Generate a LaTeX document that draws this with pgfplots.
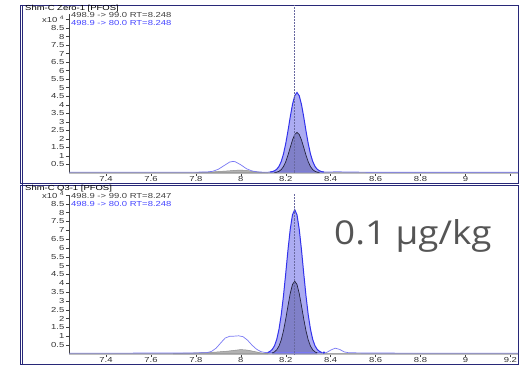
\documentclass[border=0pt]{standalone}
\usepackage{pgfplots}
\pgfplotsset{compat=1.18}
\usepackage{fontspec}
\setmainfont{Liberation Sans}
\newfontfamily\bigfont{Open Sans}

\definecolor{frame}{RGB}{40,40,120}
\definecolor{trace80}{RGB}{50,50,235}
\definecolor{trace80l}{RGB}{120,120,245}
\definecolor{fill80}{RGB}{172,172,242}
\definecolor{fill99}{RGB}{128,128,200}
\definecolor{trace99}{RGB}{35,35,60}
\definecolor{leg80}{RGB}{70,70,255}
\definecolor{bigtext}{RGB}{85,85,85}

\newcommand{\chromfont}{\fontsize{7.3}{7.3}\selectfont}
\newcommand{\sx}[1]{\scalebox{1.3}[1]{#1}}

\pgfplotsset{
  chrom/.style={
    scale only axis, width=449bp, height=159bp,
    anchor=origin, clip=false,
    xmin=7.235, xmax=9.234, ymin=0,
    axis x line=bottom, axis y line=left,
    axis line style={-},
    x axis line style={draw=black!25, line width=1.2pt},
    y axis line style={draw=black!75, line width=0.6pt},
    tick align=outside, major tick length=3bp,
    tick style={black!75, line width=0.5pt},
    xtick={7.4,7.6,7.8,8,8.2,8.4,8.6,8.8,9,9.2},
    ytick={0.5,1,1.5,2,2.5,3,3.5,4,4.5,5,5.5,6,6.5,7,7.5,8,8.5,9},
    yticklabels={\sx{0.5},\sx{1},\sx{1.5},\sx{2},\sx{2.5},\sx{3},\sx{3.5},\sx{4},\sx{4.5},\sx{5},\sx{5.5},\sx{6},\sx{6.5},\sx{7},\sx{7.5},\sx{8},\sx{8.5},\sx{x10 \textsuperscript{4}}},
    ticklabel style={font=\chromfont, text=black!80, inner sep=1.5bp},
    xticklabel style={yshift=1bp},
  }
}

\begin{document}
\begin{tikzpicture}
\path[use as bounding box, fill=white] (0,0) rectangle (528bp,367bp);

% panel frames
\begin{scope}[draw=frame, line width=0.7pt]
  \draw (20bp,362bp) rectangle (518.5bp,183.3bp);
  \draw (20bp,182bp) rectangle (518.5bp,2.7bp);
  \draw (22.5bp,362bp) -- (22.5bp,2.7bp);
\end{scope}

% ---------- upper chromatogram ----------
\begin{axis}[chrom, at={(69bp,194bp)}, ymax=9.32,
  xticklabels={\sx{7.4},\sx{7.6},\sx{7.8},\sx{8},\sx{8.2},\sx{8.4},\sx{8.6},\sx{8.8},\sx{9},{}}]
  % integrated area, 498.9 -> 80.0
  \addplot[fill=fill80, draw=none] coordinates {
    (8.14,0.08) (8.15,0.13) (8.16,0.22) (8.17,0.39) (8.18,0.68) (8.19,1.12)
    (8.20,1.73) (8.21,2.48) (8.22,3.29) (8.23,4.02) (8.24,4.53) (8.25,4.72)
    (8.26,4.53) (8.27,4.02) (8.28,3.29) (8.29,2.48) (8.30,1.73) (8.31,1.12)
    (8.32,0.68) (8.33,0.39) (8.34,0.22) (8.35,0.13) (8.36,0.08) (8.37,0.06)} \closedcycle;
  % integrated area, 498.9 -> 99.0
  \addplot[fill=fill99, draw=none] coordinates {
    (8.15,0.03) (8.16,0.05) (8.17,0.10) (8.18,0.20) (8.19,0.38) (8.20,0.66)
    (8.21,1.05) (8.22,1.50) (8.23,1.94) (8.24,2.26) (8.25,2.38) (8.26,2.26)
    (8.27,1.94) (8.28,1.50) (8.29,1.05) (8.30,0.66) (8.31,0.38) (8.32,0.20)
    (8.33,0.10) (8.34,0.05) (8.35,0.03)} \closedcycle;
  % shoulder of 99.0 trace
  \addplot[fill=black!30, draw=black!45, line width=0.5pt] coordinates {
    (7.80,0.03) (7.88,0.07) (7.94,0.12) (7.98,0.16) (8.00,0.17) (8.03,0.14)
    (8.06,0.09) (8.09,0.04) (8.12,0.02)} \closedcycle;
  % 498.9 -> 99.0 baseline
  \addplot[black!40, line width=0.5pt] coordinates {
    (7.235,0.02) (7.60,0.02) (7.80,0.03) (8.12,0.02) (8.15,0.03)
    (8.35,0.03) (8.50,0.02) (9.234,0.02)};
  % 498.9 -> 80.0 full trace
  \addplot[trace80l, line width=0.7pt] coordinates {
    (7.235,0.05) (7.40,0.05) (7.60,0.05) (7.80,0.05) (7.85,0.06) (7.875,0.10)
    (7.90,0.22) (7.925,0.43) (7.95,0.64) (7.965,0.68) (7.975,0.66) (8.00,0.48)
    (8.025,0.25) (8.05,0.12) (8.075,0.06) (8.10,0.05) (8.12,0.05) (8.13,0.06)
    (8.37,0.06) (8.40,0.06) (8.43,0.08) (8.46,0.06) (8.55,0.05) (8.70,0.04)
    (9.00,0.04) (9.234,0.04)};
  % 498.9 -> 99.0 peak
  \addplot[trace99, line width=0.7pt] coordinates {
    (8.15,0.03) (8.16,0.05) (8.17,0.10) (8.18,0.20) (8.19,0.38) (8.20,0.66)
    (8.21,1.05) (8.22,1.50) (8.23,1.94) (8.24,2.26) (8.25,2.38) (8.26,2.26)
    (8.27,1.94) (8.28,1.50) (8.29,1.05) (8.30,0.66) (8.31,0.38) (8.32,0.20)
    (8.33,0.10) (8.34,0.05) (8.35,0.03)};
  % 498.9 -> 80.0 peak
  \addplot[trace80, line width=1pt] coordinates {
    (8.13,0.06) (8.14,0.08) (8.15,0.13) (8.16,0.22) (8.17,0.39) (8.18,0.68)
    (8.19,1.12) (8.20,1.73) (8.21,2.48) (8.22,3.29) (8.23,4.02) (8.24,4.53)
    (8.25,4.72) (8.26,4.53) (8.27,4.02) (8.28,3.29) (8.29,2.48) (8.30,1.73)
    (8.31,1.12) (8.32,0.68) (8.33,0.39) (8.34,0.22) (8.35,0.13) (8.36,0.08)
    (8.37,0.06)};
  % retention time marker
  \addplot[frame!70, densely dotted, line width=0.5pt] coordinates {(8.237,0) (8.237,9.85)};
\end{axis}

% ---------- lower chromatogram ----------
\begin{axis}[chrom, at={(69bp,13bp)}, ymax=9.0,
  xticklabels={\sx{7.4},\sx{7.6},\sx{7.8},\sx{8},\sx{8.2},\sx{8.4},\sx{8.6},\sx{8.8},\sx{9},\sx{9.2}}]
  \addplot[fill=fill80, draw=none] coordinates {
    (8.12,0.09) (8.13,0.15) (8.14,0.26) (8.15,0.47) (8.16,0.83) (8.17,1.41)
    (8.18,2.23) (8.19,3.31) (8.20,4.57) (8.21,5.90) (8.22,7.07) (8.23,7.88)
    (8.24,8.17) (8.25,7.88) (8.26,7.07) (8.27,5.90) (8.28,4.57) (8.29,3.31)
    (8.30,2.23) (8.31,1.41) (8.32,0.83) (8.33,0.47) (8.34,0.26) (8.35,0.15)
    (8.36,0.09) (8.37,0.08)} \closedcycle;
  \addplot[fill=fill99, draw=none] coordinates {
    (8.14,0.06) (8.15,0.12) (8.16,0.24) (8.17,0.45) (8.18,0.80) (8.19,1.32)
    (8.20,1.99) (8.21,2.73) (8.22,3.43) (8.23,3.94) (8.24,4.12) (8.25,3.94)
    (8.26,3.43) (8.27,2.73) (8.28,1.99) (8.29,1.32) (8.30,0.80) (8.31,0.45)
    (8.32,0.24) (8.33,0.12) (8.34,0.06)} \closedcycle;
  \addplot[fill=black!30, draw=black!45, line width=0.5pt] coordinates {
    (7.70,0.03) (7.80,0.06) (7.88,0.10) (7.94,0.16) (7.98,0.22) (8.00,0.25)
    (8.03,0.22) (8.06,0.14) (8.09,0.06) (8.12,0.03)} \closedcycle;
  \addplot[black!40, line width=0.5pt] coordinates {
    (7.235,0.02) (7.60,0.02) (7.70,0.03) (8.12,0.03) (8.14,0.06)
    (8.34,0.06) (8.37,0.03) (8.50,0.02) (9.234,0.02)};
  \addplot[trace80l, line width=0.7pt] coordinates {
    (7.235,0.05) (7.50,0.05) (7.70,0.06) (7.80,0.06) (7.85,0.08) (7.87,0.15)
    (7.89,0.33) (7.91,0.62) (7.93,0.90) (7.95,1.00) (7.97,1.01) (7.99,1.03)
    (8.01,0.98) (8.03,0.78) (8.05,0.50) (8.07,0.27) (8.09,0.13) (8.11,0.08)
    (8.12,0.09) (8.36,0.09) (8.38,0.07) (8.40,0.22) (8.42,0.33) (8.44,0.26)
    (8.46,0.12) (8.48,0.07) (8.55,0.06) (8.70,0.05) (9.00,0.05) (9.234,0.05)};
  \addplot[trace99, line width=0.7pt] coordinates {
    (8.14,0.06) (8.15,0.12) (8.16,0.24) (8.17,0.45) (8.18,0.80) (8.19,1.32)
    (8.20,1.99) (8.21,2.73) (8.22,3.43) (8.23,3.94) (8.24,4.12) (8.25,3.94)
    (8.26,3.43) (8.27,2.73) (8.28,1.99) (8.29,1.32) (8.30,0.80) (8.31,0.45)
    (8.32,0.24) (8.33,0.12) (8.34,0.06)};
  \addplot[trace80, line width=1pt] coordinates {
    (8.12,0.09) (8.13,0.15) (8.14,0.26) (8.15,0.47) (8.16,0.83) (8.17,1.41)
    (8.18,2.23) (8.19,3.31) (8.20,4.57) (8.21,5.90) (8.22,7.07) (8.23,7.88)
    (8.24,8.17) (8.25,7.88) (8.26,7.07) (8.27,5.90) (8.28,4.57) (8.29,3.31)
    (8.30,2.23) (8.31,1.41) (8.32,0.83) (8.33,0.47) (8.34,0.26) (8.35,0.15)
    (8.36,0.09)};
  \addplot[frame!70, densely dotted, line width=0.5pt] coordinates {(8.237,0) (8.237,9.06)};
  \addplot[only marks, mark=*, mark size=0.9pt, trace80] coordinates {(8.37,0.08)};
\end{axis}

% sample names and transitions
\node[anchor=base west, font=\chromfont, inner sep=0] at (25bp,356.5bp) {\sx{Shm-C Zero-1 [PFOS]}};
\node[anchor=base west, font=\chromfont, inner sep=0, text=black!75] at (71bp,349bp) {\sx{498.9 -> 99.0 RT=8.248}};
\node[anchor=base west, font=\chromfont, inner sep=0, text=leg80] at (71bp,341.5bp) {\sx{498.9 -> 80.0 RT=8.248}};

\node[anchor=base west, font=\chromfont, inner sep=0] at (25bp,176.3bp) {\sx{Shm-C Q3-1 [PFOS]}};
\node[anchor=base west, font=\chromfont, inner sep=0, text=black!75] at (71bp,168.5bp) {\sx{498.9 -> 99.0 RT=8.247}};
\node[anchor=base west, font=\chromfont, inner sep=0, text=leg80] at (71bp,160.5bp) {\sx{498.9 -> 80.0 RT=8.248}};

% concentration
\node[anchor=base west, inner sep=0, text=bigtext, font=\bigfont\fontsize{33}{33}\selectfont] at (334bp,122bp) {\scalebox{1.12}[1]{0.1 µg/kg}};
\end{tikzpicture}
\end{document}
